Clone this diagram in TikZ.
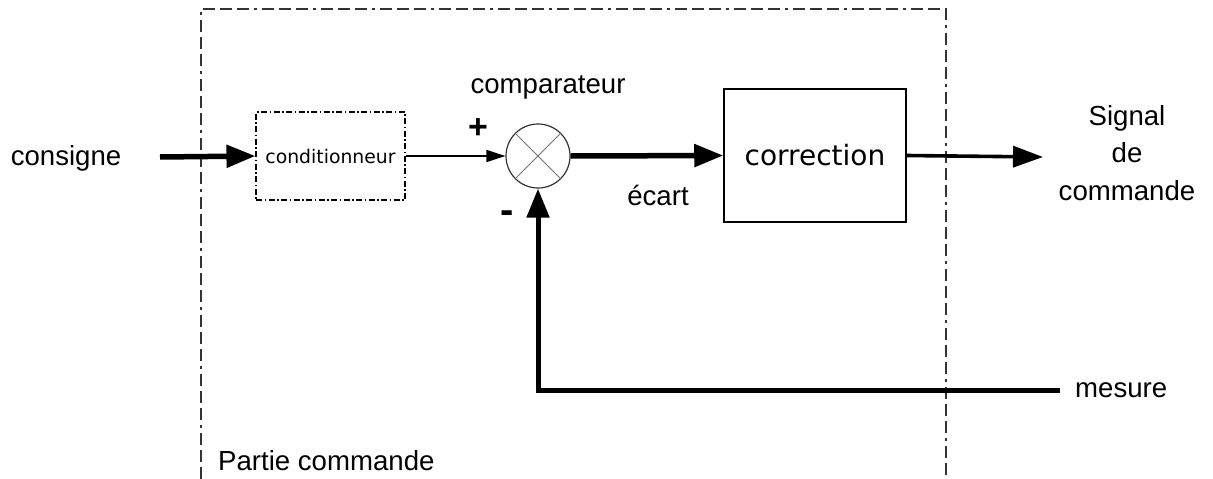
\documentclass[tikz,border=0pt]{standalone}
\usepackage{fontspec}
\setmainfont{Liberation Sans}
\newfontfamily\dvsans{DejaVu Sans}
\usetikzlibrary{arrows.meta}

\tikzset{
  lbl/.style={inner sep=0pt, font=\fontsize{27.6}{33}\selectfont},
  sign/.style={inner sep=0pt, font=\bfseries\fontsize{34}{36}\selectfont},
  bigarrow/.style={line width=5.5pt, -{Triangle[length=29pt,width=22pt]}},
  outarrow/.style={line width=3.6pt, -{Triangle[length=30pt,width=21pt]}},
  thinarrow/.style={line width=1.4pt, -{Triangle[length=19pt,width=12pt]}},
  blockbox/.style={draw, line width=1.5pt, inner sep=0pt,
                   font=\dvsans\fontsize{28}{33}\selectfont},
  condbox/.style={draw, line width=1.1pt, inner sep=0pt,
                  dash pattern=on 6pt off 2.5pt on 1.5pt off 2.5pt,
                  font=\dvsans\fontsize{18.8}{22}\selectfont},
  frame/.style={line width=1.4pt, draw=black!80,
                dash pattern=on 12pt off 5pt on 12pt off 5pt on 12pt off 5pt on 3pt off 5pt},
}

\begin{document}
\begin{tikzpicture}[x=1pt, y=-1pt]
  \useasboundingbox (0,0) rectangle (1213,479);

  % control part boundary (open at the bottom)
  \draw[frame] (201,479) -- (201,9) -- (946,9) -- (946,479);
  \node[lbl, anchor=base west] (partie) at (218,470) {Partie commande};

  % blocks
  \node[condbox, minimum width=149pt, minimum height=88pt] (cond) at (330.5,156) {conditionneur};
  \node[draw=black!80, line width=1.2pt, circle, minimum size=64pt, inner sep=0pt] (cmp) at (538,156) {};
  \draw[black!55, line width=1pt] (cmp.45) -- (cmp.225) (cmp.135) -- (cmp.315);
  \node[blockbox, minimum width=182pt, minimum height=133pt] (corr) at (815,155.5) {correction};

  % labels
  \node[lbl, anchor=base] (consigne) at (66,165) {consigne};
  \node[lbl, anchor=base] (compar) at (548,93) {comparateur};
  \node[sign] (plus) at (478,129) {+};
  \node[sign, font=\bfseries\fontsize{40}{40}\selectfont] (minus) at (507,217) {-};
  \node[lbl, anchor=base] (ecart) at (658,205) {écart};
  \node[lbl, anchor=base west] (mesure) at (1075,397) {mesure};
  \node[lbl, align=center, anchor=base, font=\fontsize{27.6}{37.5}\selectfont] (signal) at (1127,200)
       {Signal\\de\\commande};

  % connectors
  \coordinate (in) at (160,157);
  \coordinate (out) at (1043,157);
  \coordinate (mes) at (1060,390);
  \draw[bigarrow] (in) -- (cond.west);
  \draw[thinarrow] (cond.east) -- (cmp.west);
  \draw[bigarrow] (cmp.east) -- (corr.west);
  \draw[outarrow] (corr.east) -- (out);
  \draw[bigarrow, line width=5pt] (mes) -| (cmp.south);
\end{tikzpicture}
\end{document}
